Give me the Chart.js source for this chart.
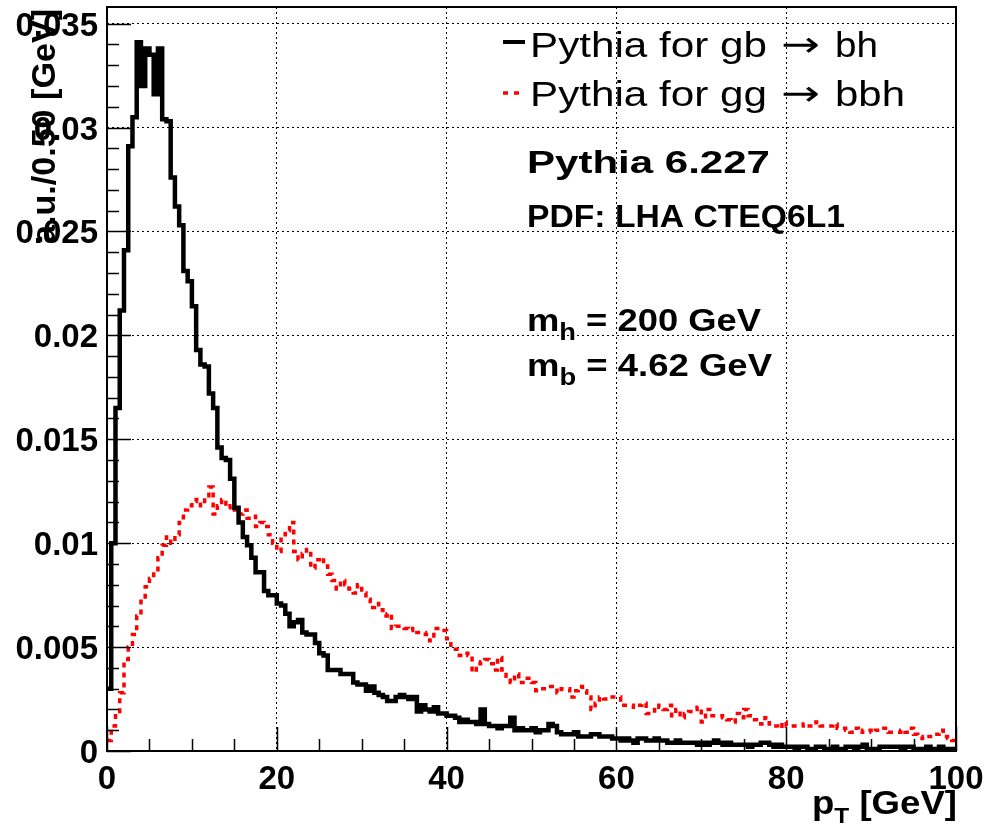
<!DOCTYPE html>
<html>
<head>
<meta charset="utf-8">
<script src="https://cdn.jsdelivr.net/npm/chart.js@4.4.1/dist/chart.umd.min.js"></script>
<style>
  html, body { margin: 0; padding: 0; background: #fff; }
  canvas { display: block; }
</style>
</head>
<body>
<canvas id="chart" width="984" height="832"></canvas>
<script>
// pT histograms, 200 bins of 0.5 GeV from 0 to 100 GeV
const binWidth = 0.5;

const gbToBh = [
  0.0030, 0.0100, 0.0165, 0.0212, 0.0241, 0.0291, 0.0305, 0.0341, 0.0320, 0.0338,
  0.0335, 0.0316, 0.0338, 0.0304, 0.0303, 0.0276, 0.0262, 0.0253, 0.0231, 0.0226,
  0.0214, 0.0193, 0.0186, 0.0185, 0.0172, 0.0165, 0.0146, 0.0141, 0.0140, 0.0131,
  0.0117, 0.0110, 0.0103, 0.0099, 0.0093, 0.0086, 0.0086, 0.0077, 0.0075, 0.0075,
  0.0071, 0.0070, 0.0066, 0.0060, 0.0062, 0.0063, 0.0057, 0.0056, 0.0056, 0.0052,
  0.0047, 0.0046, 0.0039, 0.0039, 0.0039, 0.0037, 0.0037, 0.0037, 0.0033, 0.0032,
  0.0032, 0.0029, 0.0031, 0.0028, 0.0027, 0.0026, 0.0024, 0.0024, 0.0026, 0.0027,
  0.0026, 0.0025, 0.0026, 0.0019, 0.0022, 0.0020, 0.0019, 0.0021, 0.0018, 0.0018,
  0.0017, 0.0017, 0.0016, 0.0014, 0.0015, 0.0014, 0.0014, 0.0013, 0.0020, 0.0013,
  0.0012, 0.0012, 0.0011, 0.0012, 0.0012, 0.0016, 0.0010, 0.0011, 0.0010, 0.0010,
  0.0011, 0.0009, 0.0010, 0.0010, 0.0013, 0.0012, 0.0009, 0.0008, 0.0008, 0.0008,
  0.0009, 0.0007, 0.0007, 0.0007, 0.0008, 0.0008, 0.0007, 0.0007, 0.0007, 0.0006,
  0.0006, 0.0005, 0.0006, 0.0005, 0.0004, 0.0006, 0.0006, 0.0005, 0.0005, 0.0006,
  0.0005, 0.0005, 0.0004, 0.0004, 0.0005, 0.0004, 0.0004, 0.0004, 0.0004, 0.0003,
  0.0004, 0.0003, 0.0004, 0.0005, 0.0004, 0.0003, 0.0004, 0.0003, 0.0003, 0.0003,
  0.0003, 0.0002, 0.0003, 0.0003, 0.0004, 0.0004, 0.0003, 0.0002, 0.0003, 0.0002,
  0.0002, 0.0002, 0.0001, 0.0002, 0.0002, 0.0001, 0.0001, 0.0002, 0.0002, 0.0001,
  0.0001, 0.0002, 0.0001, 0.0001, 0.0002, 0.0002, 0.0001, 0.0002, 0.0003, 0.0001,
  0.0001, 0.0001, 0.0002, 0.0002, 0.0002, 0.0002, 0.0002, 0.0001, 0.0002, 0.0002,
  0.0001, 0.0001, 0.0001, 0.0002, 0.0001, 0.0001, 0.0002, 0.0001, 0.0001, 0.0001
];

const ggToBbh = [
  0.0005, 0.0012, 0.0018, 0.0028, 0.0044, 0.0050, 0.0056, 0.0065, 0.0072, 0.0079,
  0.0083, 0.0086, 0.0093, 0.0099, 0.0103, 0.0100, 0.0104, 0.0110, 0.0116, 0.0118,
  0.0120, 0.0121, 0.0118, 0.0122, 0.0127, 0.0114, 0.0118, 0.0121, 0.0117, 0.0118,
  0.0116, 0.0114, 0.0116, 0.0112, 0.0113, 0.0108, 0.0110, 0.0108, 0.0104, 0.0100,
  0.0096, 0.0104, 0.0106, 0.0110, 0.0096, 0.0092, 0.0095, 0.0097, 0.0088, 0.0092,
  0.0093, 0.0089, 0.0085, 0.0082, 0.0078, 0.0082, 0.0080, 0.0078, 0.0076, 0.0080,
  0.0076, 0.0073, 0.0069, 0.0071, 0.0068, 0.0065, 0.0066, 0.0059, 0.0060, 0.0060,
  0.0059, 0.0058, 0.0059, 0.0057, 0.0057, 0.0056, 0.0053, 0.0059, 0.0059, 0.0058,
  0.0054, 0.0049, 0.0049, 0.0046, 0.0047, 0.0046, 0.0038, 0.0042, 0.0043, 0.0044,
  0.0042, 0.0039, 0.0045, 0.0039, 0.0036, 0.0033, 0.0037, 0.0033, 0.0034, 0.0035,
  0.0033, 0.0029, 0.0030, 0.0030, 0.0031, 0.0031, 0.0028, 0.0030, 0.0030, 0.0026,
  0.0029, 0.0031, 0.0029, 0.0026, 0.0020, 0.0023, 0.0026, 0.0025, 0.0025, 0.0026,
  0.0026, 0.0022, 0.0022, 0.0022, 0.0021, 0.0022, 0.0023, 0.0018, 0.0018, 0.0022,
  0.0021, 0.0020, 0.0022, 0.0017, 0.0020, 0.0016, 0.0018, 0.0019, 0.0020, 0.0021,
  0.0014, 0.0020, 0.0017, 0.0017, 0.0017, 0.0016, 0.0015, 0.0014, 0.0018, 0.0016,
  0.0020, 0.0017, 0.0015, 0.0014, 0.0013, 0.0016, 0.0013, 0.0012, 0.0011, 0.0014,
  0.0012, 0.0012, 0.0012, 0.0012, 0.0013, 0.0012, 0.0012, 0.0014, 0.0012, 0.0012,
  0.0012, 0.0013, 0.0011, 0.0011, 0.0010, 0.0009, 0.0011, 0.0009, 0.0010, 0.0010,
  0.0009, 0.0010, 0.0010, 0.0011, 0.0009, 0.0009, 0.0009, 0.0010, 0.0009, 0.0011,
  0.0008, 0.0007, 0.0006, 0.0007, 0.0007, 0.0008, 0.0010, 0.0007, 0.0006, 0.0005
];

const legendParts = [['Pythia for gb', 'bh'], ['Pythia for gg', 'bbh']];
const xTicks = [0, 20, 40, 60, 80, 100];
const xTickLabels = ['0', '20', '40', '60', '80', '100'];
const yTicks = [0, 0.005, 0.01, 0.015, 0.02, 0.025, 0.03, 0.035];
const yTickLabels = ['0', '0.005', '0.01', '0.015', '0.02', '0.025', '0.03', '0.035'];
const xMinorStep = 5;
const yMinorStep = 0.001;
const xMax = 100;
const yMax = 0.0358;

// histogram -> points at the low edge of each bin, plus closing point at the upper edge
function toSteps(vals) {
  const pts = vals.map((v, i) => ({ x: i * binWidth, y: v }));
  pts.push({ x: vals.length * binWidth, y: vals[vals.length - 1] });
  return pts;
}

const FONT = '"Liberation Sans", Arial, Helvetica, sans-serif';
const BOLD = 'bold 33px ' + FONT;

function textWidth(ctx, s, font, sx) {
  ctx.save();
  ctx.font = font;
  const w = ctx.measureText(s).width * (sx || 1);
  ctx.restore();
  return w;
}

function drawText(ctx, s, x, y, o) {
  ctx.save();
  ctx.translate(x, y);
  if (o.rot) ctx.rotate(o.rot);
  ctx.scale(o.sx || 1, 1);
  ctx.font = o.font;
  ctx.fillStyle = o.color || '#000';
  ctx.textAlign = o.align || 'left';
  ctx.textBaseline = 'alphabetic';
  ctx.fillText(s, 0, 0);
  ctx.restore();
}

// "m" + subscript + rest, squeezed/stretched to a given total width
function drawSub(ctx, base, sub, rest, x, y, font, subFont, width, subDrop) {
  const raw = textWidth(ctx, base, font) + textWidth(ctx, sub, subFont) + textWidth(ctx, rest, font);
  const sx = width / raw;
  drawText(ctx, base, x, y, { font: font, sx: sx });
  x += textWidth(ctx, base, font, sx);
  drawText(ctx, sub, x, y + subDrop, { font: subFont, sx: sx });
  x += textWidth(ctx, sub, subFont, sx);
  drawText(ctx, rest, x, y, { font: font, sx: sx });
}

function drawFit(ctx, s, x, y, font, width) {
  drawText(ctx, s, x, y, { font: font, sx: width / textWidth(ctx, s, font) });
}

const rootDecor = {
  id: 'rootDecor',
  afterDraw(chart) {
    const ctx = chart.ctx;
    const a = chart.chartArea;
    const xs = chart.scales.x, ys = chart.scales.y;

    // tick marks (inside the frame)
    ctx.save();
    ctx.strokeStyle = '#000';
    ctx.lineWidth = 1.5;
    ctx.beginPath();
    for (let v = 0; v <= yMax + 1e-9; v += yMinorStep) {
      const py = Math.round(ys.getPixelForValue(v)) + 0.5;
      const major = Math.abs(v / 0.005 - Math.round(v / 0.005)) < 1e-6;
      ctx.moveTo(a.left, py);
      ctx.lineTo(a.left + (major ? 24 : 12), py);
    }
    for (let v = 0; v <= xMax + 1e-9; v += xMinorStep) {
      const px = Math.round(xs.getPixelForValue(v)) + 0.5;
      const major = v % 20 === 0;
      ctx.moveTo(px, a.bottom);
      ctx.lineTo(px, a.bottom - (major ? 24 : 12));
    }
    ctx.stroke();

    // frame
    ctx.lineWidth = 2;
    ctx.strokeRect(a.left, a.top, a.right - a.left, a.bottom - a.top);
    ctx.restore();

    // tick labels
    yTicks.forEach((v, i) => {
      drawText(ctx, yTickLabels[i], 98, ys.getPixelForValue(v) + 12, { font: BOLD, align: 'right' });
    });
    xTicks.forEach((v, i) => {
      drawText(ctx, xTickLabels[i], xs.getPixelForValue(v), 789, { font: BOLD, align: 'center' });
    });

    // axis titles
    const yTitle = 'a.u./0.50 [GeV]';
    drawText(ctx, yTitle, 55, 9, { font: BOLD, sx: 235 / textWidth(ctx, yTitle, BOLD), align: 'right', rot: -Math.PI / 2 });
    drawSub(ctx, 'p', 'T', ' [GeV]', 812, 814, BOLD, 'bold 22px ' + FONT, 145, 9);

    // legend
    const legFont = '35px ' + FONT;
    const arrowFont = '35px "DejaVu Sans", ' + FONT;
    ctx.save();
    ctx.strokeStyle = '#000';
    ctx.lineWidth = 4;
    ctx.beginPath();
    ctx.moveTo(503, 42); ctx.lineTo(525, 42);
    ctx.stroke();
    ctx.strokeStyle = '#ff0000';
    ctx.lineWidth = 3.5;
    ctx.setLineDash([5, 6]);
    ctx.beginPath();
    ctx.moveTo(503, 93); ctx.lineTo(525, 93);
    ctx.stroke();
    ctx.restore();
    const rowsY = [57, 106];
    const rowHead = [237, 237];
    const rowTail = [43, 70];
    legendParts.forEach((p, i) => {
      drawFit(ctx, p[0], 530, rowsY[i], legFont, rowHead[i]);
      drawFit(ctx, '\u2192', 781, rowsY[i] - 1, arrowFont, 39);
      drawFit(ctx, p[1], 835, rowsY[i], legFont, rowTail[i]);
    });

    // run info
    const annFont = 'bold 32px ' + FONT;
    const annSub = 'bold 24px ' + FONT;
    drawFit(ctx, 'Pythia 6.227', 527, 173, annFont, 243);
    drawFit(ctx, 'PDF: LHA CTEQ6L1', 527, 227, annFont, 318);
    drawSub(ctx, 'm', 'h', ' = 200 GeV', 527, 331, annFont, annSub, 234, 9);
    drawSub(ctx, 'm', 'b', ' = 4.62 GeV', 527, 376, annFont, annSub, 245, 9);
  }
};

new Chart(document.getElementById('chart').getContext('2d'), {
  type: 'line',
  data: {
    datasets: [
      {
        label: 'Pythia for gb \u2192 bh',
        data: toSteps(gbToBh),
        stepped: 'before',
        borderColor: '#000000',
        borderWidth: 4.5,
        pointRadius: 0,
        fill: false
      },
      {
        label: 'Pythia for gg \u2192 bbh',
        data: toSteps(ggToBbh),
        stepped: 'before',
        borderColor: '#ff0000',
        borderWidth: 3.5,
        borderDash: [5, 5],
        pointRadius: 0,
        fill: false
      }
    ]
  },
  options: {
    responsive: false,
    animation: false,
    devicePixelRatio: 1,
    layout: { padding: { left: 0, right: 28, top: 7, bottom: 0 } },
    plugins: { legend: { display: false }, tooltip: { enabled: false } },
    scales: {
      x: {
        type: 'linear',
        min: 0,
        max: xMax,
        afterBuildTicks: (s) => { s.ticks = xTicks.map(v => ({ value: v })); },
        afterFit: (s) => { s.height = 81; },
        ticks: { display: false },
        grid: { color: '#000', lineWidth: 1, drawTicks: false },
        border: { display: false, dash: [2, 3] }
      },
      y: {
        type: 'linear',
        min: 0,
        max: yMax,
        afterBuildTicks: (s) => { s.ticks = yTicks.map(v => ({ value: v })); },
        afterFit: (s) => { s.width = 107; },
        ticks: { display: false },
        grid: { color: '#000', lineWidth: 1, drawTicks: false },
        border: { display: false, dash: [2, 3] }
      }
    }
  },
  plugins: [rootDecor]
});
</script>
</body>
</html>
